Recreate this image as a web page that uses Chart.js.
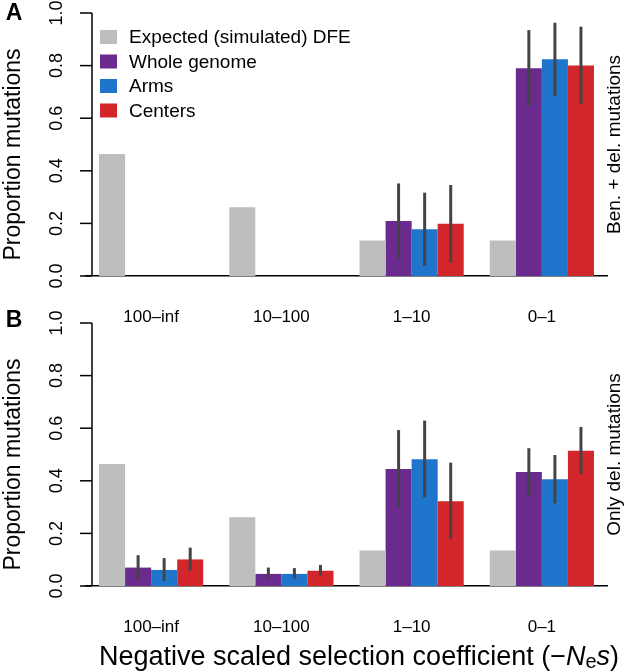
<!DOCTYPE html>
<html>
<head>
<meta charset="utf-8">
<script src="https://cdn.jsdelivr.net/npm/chart.js@4.4.1/dist/chart.umd.min.js"></script>
<style>
  body { margin: 0; background: #fff; }
  #wrap { position: relative; width: 627px; height: 671px; }
  canvas { position: absolute; left: 0; }
  #chartA { top: 0; }
  #chartB { top: 300px; }
</style>
</head>
<body>
<div id="wrap">
  <canvas id="chartA" width="627" height="330"></canvas>
  <canvas id="chartB" width="627" height="371"></canvas>
</div>
<script>
const FONT = '"Liberation Sans", Arial, Helvetica, sans-serif';

const categories = ['100–inf', '10–100', '1–10', '0–1'];
const seriesNames = ['Expected (simulated) DFE', 'Whole genome', 'Arms', 'Centers'];
const seriesColors = ['#bebebe', '#6a2a8e', '#1f74cc', '#d2262a'];
const yTicks = [0, 0.2, 0.4, 0.6, 0.8, 1.0];

// expected DFE (same in both panels)
const expected = [0.464, 0.261, 0.135, 0.135];

// panel A: beneficial + deleterious
const aWhole = [0, 0, 0.209, 0.790];
const aArms = [0, 0, 0.178, 0.824];
const aCenters = [0, 0, 0.199, 0.800];
const aWholeLo = [0, 0, 0.067, 0.646];
const aWholeHi = [0, 0, 0.352, 0.935];
const aArmsLo = [0, 0, 0.038, 0.684];
const aArmsHi = [0, 0, 0.317, 0.963];
const aCentersLo = [0, 0, 0.051, 0.654];
const aCentersHi = [0, 0, 0.346, 0.948];

// panel B: only deleterious
const bWhole = [0.070, 0.046, 0.445, 0.433];
const bArms = [0.061, 0.046, 0.482, 0.406];
const bCenters = [0.101, 0.058, 0.322, 0.514];
const bWholeLo = [0.025, 0.029, 0.299, 0.342];
const bWholeHi = [0.117, 0.070, 0.593, 0.524];
const bArmsLo = [0.019, 0.028, 0.337, 0.314];
const bArmsHi = [0.106, 0.068, 0.629, 0.498];
const bCentersLo = [0.057, 0.038, 0.178, 0.426];
const bCentersHi = [0.146, 0.080, 0.469, 0.605];

function makeDecor(cfg) {
    return {
        id: 'decor' + cfg.letter,
        afterDatasetsDraw(chart) {
            const ctx = chart.ctx, y = chart.scales.y, area = chart.chartArea;
            ctx.save();

            // error bars
            ctx.strokeStyle = '#444';
            ctx.lineWidth = 3;
            cfg.errors.forEach((err, di) => {
                if (!err) return;
                chart.getDatasetMeta(di).data.forEach((bar, i) => {
                    if (err.hi[i] <= err.lo[i]) return;
                    ctx.beginPath();
                    ctx.moveTo(bar.x, y.getPixelForValue(err.lo[i]));
                    ctx.lineTo(bar.x, y.getPixelForValue(err.hi[i]));
                    ctx.stroke();
                });
            });

            // y axis (R style, rotated labels)
            const ax = area.left + 6;
            ctx.strokeStyle = '#000';
            ctx.lineWidth = 1.5;
            ctx.beginPath();
            ctx.moveTo(ax, y.getPixelForValue(0));
            ctx.lineTo(ax, y.getPixelForValue(1));
            ctx.stroke();
            ctx.fillStyle = '#000';
            ctx.font = '18px ' + FONT;
            ctx.textAlign = 'center';
            ctx.textBaseline = 'middle';
            yTicks.forEach(v => {
                const py = y.getPixelForValue(v);
                ctx.beginPath();
                ctx.moveTo(ax - 12, py);
                ctx.lineTo(ax, py);
                ctx.stroke();
                ctx.save();
                ctx.translate(ax - 35, py);
                ctx.rotate(-Math.PI / 2);
                ctx.fillText(v.toFixed(1), 0, 0);
                ctx.restore();
            });

            // y title
            const midY = (y.getPixelForValue(0) + y.getPixelForValue(1)) / 2;
            ctx.save();
            ctx.translate(14, midY + 10);
            ctx.rotate(-Math.PI / 2);
            ctx.font = '23px ' + FONT;
            ctx.fillText('Proportion mutations', 0, 0);
            ctx.restore();

            // right side label
            ctx.save();
            ctx.translate(615, midY);
            ctx.rotate(-Math.PI / 2);
            ctx.font = '19px ' + FONT;
            ctx.fillText(cfg.side, 0, 0);
            ctx.restore();

            // panel letter
            ctx.font = 'bold 23px ' + FONT;
            ctx.fillText(cfg.letter, 14, area.top + cfg.letterDy);

            // legend
            if (cfg.legend) {
                ctx.font = '19px ' + FONT;
                ctx.textAlign = 'left';
                seriesNames.forEach((name, i) => {
                    const ly = area.top + 24 + i * 24.5;
                    ctx.fillStyle = seriesColors[i];
                    ctx.fillRect(100, ly - 7, 17, 14);
                    ctx.fillStyle = '#000';
                    ctx.fillText(name, 129, ly + 1);
                });
            }

            // x title
            if (cfg.xTitle) {
                const ty = chart.height - 6;
                const parts = [
                    { t: 'Negative scaled selection coefficient (\u2212', f: '27px ' + FONT, dy: 0 },
                    { t: 'N', f: 'italic 27px ' + FONT, dy: 0 },
                    { t: 'e', f: '20px ' + FONT, dy: 3 },
                    { t: 's', f: 'italic 27px ' + FONT, dy: 0 },
                    { t: ')', f: '27px ' + FONT, dy: 0 }
                ];
                let total = 0;
                parts.forEach(p => { ctx.font = p.f; p.w = ctx.measureText(p.t).width; total += p.w; });
                let x = 359 - total / 2;
                ctx.textAlign = 'left';
                ctx.textBaseline = 'alphabetic';
                parts.forEach(p => {
                    ctx.font = p.f;
                    ctx.fillText(p.t, x, ty + p.dy);
                    x += p.w;
                });
            }
            ctx.restore();
        }
    };
}

function makePanel(id, vals, errs, cfg) {
    const datasets = [expected].concat(vals).map((d, i) => ({
        label: seriesNames[i],
        data: d,
        backgroundColor: seriesColors[i],
        borderWidth: 0,
        categoryPercentage: 0.8,
        barPercentage: 1.0
    }));
    return new Chart(document.getElementById(id), {
        type: 'bar',
        data: { labels: categories, datasets: datasets },
        options: {
            responsive: false,
            animation: false,
            layout: { padding: { left: 86, right: 20, top: cfg.padTop, bottom: cfg.padBottom } },
            plugins: { legend: { display: false }, tooltip: { enabled: false } },
            scales: {
                x: {
                    grid: { display: false, drawTicks: false },
                    border: { display: true, color: '#000', width: 1.5 },
                    ticks: { color: '#000', font: { size: 17, family: FONT }, padding: 31 },
                    afterFit: s => { s.height = 50; }
                },
                y: { display: false, min: 0, max: 1 }
            }
        },
        plugins: [makeDecor(Object.assign({ errors: [null].concat(errs) }, cfg))]
    });
}

makePanel('chartA', [aWhole, aArms, aCenters],
    [{ lo: aWholeLo, hi: aWholeHi }, { lo: aArmsLo, hi: aArmsHi }, { lo: aCentersLo, hi: aCentersHi }],
    { letter: 'A', side: 'Ben. + del. mutations', legend: true, xTitle: false, padTop: 13, padBottom: 4, letterDy: 1 });

makePanel('chartB', [bWhole, bArms, bCenters],
    [{ lo: bWholeLo, hi: bWholeHi }, { lo: bArmsLo, hi: bArmsHi }, { lo: bCentersLo, hi: bCentersHi }],
    { letter: 'B', side: 'Only del. mutations', legend: false, xTitle: true, padTop: 23, padBottom: 35, letterDy: -2 });
</script>
</body>
</html>
